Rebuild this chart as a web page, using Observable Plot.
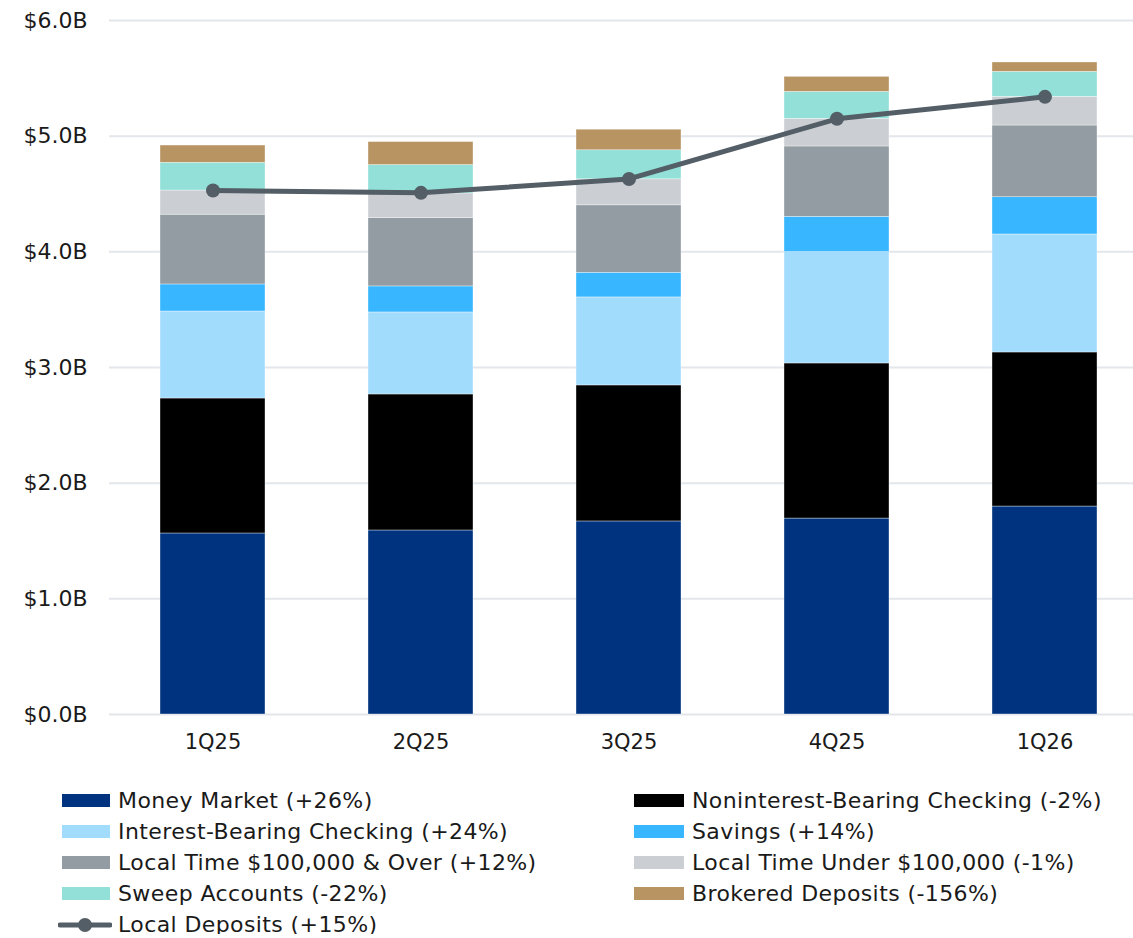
<!DOCTYPE html>
<html>
<head>
<meta charset="utf-8">
<script src="https://cdn.jsdelivr.net/npm/d3@7"></script>
<script src="https://cdn.jsdelivr.net/npm/@observablehq/plot@0.6"></script>
<style>
  html, body { margin: 0; padding: 0; background: #fff; }
  body { width: 1133px; font-family: "DejaVu Sans", sans-serif; color: #1a1a1a; }
  #chart svg { display: block; }
  #legend { position: relative; height: 170px; }
  .item { position: absolute; display: flex; align-items: center; font-size: 22px; white-space: nowrap; letter-spacing: 0.4px; }
  .sw { width: 48px; height: 13px; margin-right: 8px; }
</style>
</head>
<body>
<div id="chart"></div>
<div id="legend"></div>
<script>
const quarters = ["1Q25", "2Q25", "3Q25", "4Q25", "1Q26"];
const seriesNames = [
  "Money Market (+26%)",
  "Noninterest-Bearing Checking (-2%)",
  "Interest-Bearing Checking (+24%)",
  "Savings (+14%)",
  "Local Time $100,000 & Over (+12%)",
  "Local Time Under $100,000 (-1%)",
  "Sweep Accounts (-22%)",
  "Brokered Deposits (-156%)"
];
const seriesColors = ["#00337f", "#000000", "#a2dcfd", "#38b6ff", "#929ca2", "#cbcfd3", "#92e0d8", "#b89462"];
const moneyMarket     = [1.565, 1.591, 1.669, 1.694, 1.798];
const nonInterest     = [1.167, 1.176, 1.176, 1.341, 1.332];
const interestBearing = [0.752, 0.709, 0.761, 0.962, 1.020];
const savings         = [0.234, 0.225, 0.213, 0.306, 0.322];
const localTimeOver   = [0.603, 0.591, 0.583, 0.608, 0.620];
const localTimeUnder  = [0.209, 0.213, 0.225, 0.239, 0.248];
const sweep           = [0.240, 0.245, 0.251, 0.233, 0.216];
const brokered        = [0.149, 0.199, 0.178, 0.130, 0.081];
const localDepositsName = "Local Deposits (+15%)";
const localDeposits   = [4.53, 4.51, 4.63, 5.15, 5.34];
const yTicks = [0, 1, 2, 3, 4, 5, 6];

const seriesValues = [moneyMarket, nonInterest, interestBearing, savings, localTimeOver, localTimeUnder, sweep, brokered];
const barData = [];
quarters.forEach((q, i) => {
  seriesNames.forEach((s, j) => barData.push({quarter: q, series: s, value: seriesValues[j][i]}));
});
const lineData = quarters.map((q, i) => ({quarter: q, value: localDeposits[i]}));

const chart = Plot.plot({
  width: 1133,
  height: 764,
  marginTop: 20,
  marginBottom: 50,
  marginLeft: 109,
  marginRight: 0,
  style: {fontFamily: "'DejaVu Sans', sans-serif", fontSize: "20px", color: "#1a1a1a"},
  x: {domain: quarters, paddingInner: 0.495, paddingOuter: 0.209, align: 0.59, label: null},
  y: {domain: [0, 6], label: null},
  color: {domain: seriesNames, range: seriesColors},
  marks: [
    Plot.gridY(yTicks, {stroke: "#e3e6ea", strokeOpacity: 1, strokeWidth: 2}),
    Plot.axisY(yTicks, {tickSize: 0, tickPadding: 22, tickFormat: d => `$${d.toFixed(1)}B`, fill: "#1a1a1a", fontSize: 22, letterSpacing: 1.5}),
    Plot.axisX({tickSize: 0, tickPadding: 20, fill: "#1a1a1a", fontSize: 21}),
    Plot.barY(barData, Plot.stackY({x: "quarter", y: "value", fill: "series", stroke: "#ffffff", strokeWidth: 0.6, strokeOpacity: 0.6})),
    Plot.line(lineData, {x: "quarter", y: "value", stroke: "#535e66", strokeWidth: 5}),
    Plot.dot(lineData, {x: "quarter", y: "value", fill: "#535e66", r: 7})
  ]
});
document.getElementById("chart").appendChild(chart);

const legend = document.getElementById("legend");
const rowY = [0, 31, 62, 93];
seriesNames.forEach((s, j) => {
  const col = j % 2, row = Math.floor(j / 2);
  const div = document.createElement("div");
  div.className = "item";
  div.style.left = (col === 0 ? 62 : 634) + "px";
  div.style.top = (24 + rowY[row]) + "px";
  const sw = document.createElement("span");
  sw.className = "sw";
  sw.style.background = seriesColors[j];
  if (col === 1) sw.style.width = "50px";
  div.appendChild(sw);
  div.appendChild(document.createTextNode(s));
  legend.appendChild(div);
});
const ld = document.createElement("div");
ld.className = "item";
ld.style.left = "58px";
ld.style.top = (24 + 124) + "px";
ld.innerHTML = `<svg width="54" height="16" style="margin-right:6px"><line x1="2" y1="8" x2="52" y2="8" stroke="#535e66" stroke-width="5" stroke-linecap="round"/><circle cx="27" cy="8" r="7" fill="#535e66"/></svg>`;
ld.appendChild(document.createTextNode(localDepositsName));
legend.appendChild(ld);
</script>
</body>
</html>
